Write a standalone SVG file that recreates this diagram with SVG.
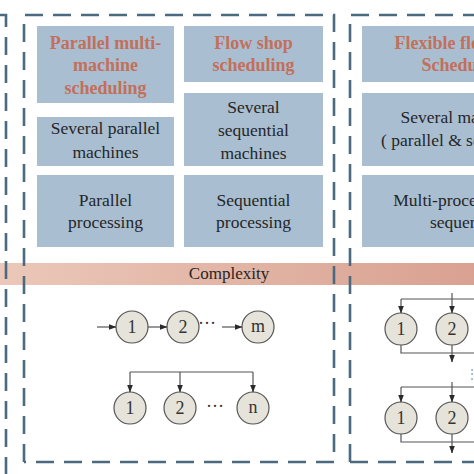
<svg xmlns="http://www.w3.org/2000/svg" width="474" height="474" viewBox="0 0 474 474">
<defs>
<linearGradient id="band" x1="0" y1="0" x2="1" y2="0">
<stop offset="0" stop-color="#ebc8b9"/>
<stop offset="1" stop-color="#d9a191"/>
</linearGradient>
<marker id="ah" markerWidth="8" markerHeight="6" refX="7.5" refY="3" orient="auto" markerUnits="userSpaceOnUse">
<path d="M0,0 L8,3 L0,6 Z" fill="#2a2a2a"/>
</marker>
<style>
.box{fill:#a9bed1}
.dash{fill:none;stroke:#4b6a80;stroke-width:2.6;stroke-dasharray:18 10}
text{font-family:'Liberation Serif','Times New Roman',Times,'DejaVu Serif',serif}
.title{font-weight:bold;font-size:18px;fill:#c2705a;text-anchor:middle}
.txt{font-size:17.5px;fill:#262626;text-anchor:middle}
.node circle{fill:#e5e3da;stroke:#555;stroke-width:1.2}
.node text{font-size:18px;fill:#333;text-anchor:middle}
.ln{fill:none;stroke:#555;stroke-width:1.2}
.dots{font-size:18px;fill:#333;text-anchor:middle}
</style>
</defs>
<rect width="474" height="474" fill="#fff"/>

<!-- boxes column 1 -->
<g id="c1-title"><rect class="box" x="37" y="26" width="137" height="77"/>
<text class="title" x="105.5" y="49">Parallel multi-</text>
<text class="title" x="105.5" y="71">machine</text>
<text class="title" x="105.5" y="94">scheduling</text></g>
<g id="c1-machines"><rect class="box" x="37" y="117" width="137" height="49"/>
<text class="txt" x="105.5" y="134">Several parallel</text>
<text class="txt" x="105.5" y="158">machines</text></g>
<g id="c1-proc"><rect class="box" x="37" y="175" width="137" height="72"/>
<text class="txt" x="105.5" y="206">Parallel</text>
<text class="txt" x="105.5" y="228">processing</text></g>

<!-- column 2 -->
<g id="c2-title"><rect class="box" x="184" y="26" width="139" height="56"/>
<text class="title" x="253.5" y="49">Flow shop</text>
<text class="title" x="253.5" y="71">scheduling</text></g>
<g id="c2-machines"><rect class="box" x="184" y="93" width="139" height="73"/>
<text class="txt" x="253.5" y="113">Several</text>
<text class="txt" x="253.5" y="136">sequential</text>
<text class="txt" x="253.5" y="159">machines</text></g>
<g id="c2-proc"><rect class="box" x="184" y="175" width="139" height="72"/>
<text class="txt" x="253.5" y="206">Sequential</text>
<text class="txt" x="253.5" y="228">processing</text></g>

<!-- column 3 -->
<g id="c3-title"><rect class="box" x="362" y="26" width="140" height="56"/>
<text class="title" x="464" y="49">Flexible flow shop</text>
<text class="title" x="464" y="71">Scheduling</text></g>
<g id="c3-machines"><rect class="box" x="362" y="93" width="140" height="73"/>
<text class="txt" x="462" y="123">Several machines</text>
<text class="txt" x="462" y="146">( parallel &amp; sequential)</text></g>
<g id="c3-proc"><rect class="box" x="362" y="175" width="140" height="72"/>
<text class="txt" x="462" y="206">Multi-processing in</text>
<text class="txt" x="462" y="228">sequence</text></g>

<!-- complexity band -->
<g id="complexity"><rect x="0" y="263" width="474" height="22" fill="url(#band)"/>
<text class="txt" x="229" y="279" style="font-size:17px">Complexity</text></g>

<!-- dashed panels -->
<g id="panels">
<path class="dash" d="M0,15 H6 V474"/>
<path class="dash" d="M24,462 V15 H334 V462 H24"/>
<path class="dash" d="M350,462 V15 H474"/>
<path class="dash" d="M350,462 H474"/>
</g>

<!-- nodes -->
<g id="f1" class="node"><circle cx="132" cy="327" r="16"/><text x="132" y="333">1</text></g>
<g id="f2" class="node"><circle cx="183" cy="327" r="16"/><text x="183" y="333">2</text></g>
<g id="fm" class="node"><circle cx="258" cy="327" r="16"/><text x="258" y="332">m</text></g>
<g id="p1" class="node"><circle cx="130" cy="408" r="16"/><text x="130" y="414">1</text></g>
<g id="p2" class="node"><circle cx="180" cy="408" r="16"/><text x="180" y="414">2</text></g>
<g id="pn" class="node"><circle cx="253" cy="408" r="16"/><text x="253" y="413">n</text></g>
<g id="ff1a" class="node"><circle cx="401" cy="329" r="16"/><text x="401" y="335">1</text></g>
<g id="ff2a" class="node"><circle cx="452" cy="329" r="16"/><text x="452" y="335">2</text></g>
<g id="ff1b" class="node"><circle cx="401" cy="418" r="16"/><text x="401" y="424">1</text></g>
<g id="ff2b" class="node"><circle cx="452" cy="418" r="16"/><text x="452" y="424">2</text></g>

<!-- connectors -->
<g id="connectors">
<line class="ln" x1="97" y1="327" x2="116" y2="327" marker-end="url(#ah)"/>
<line class="ln" x1="148" y1="327" x2="167" y2="327" marker-end="url(#ah)"/>
<line class="ln" x1="222" y1="327" x2="242" y2="327" marker-end="url(#ah)"/>
<text class="dots" x="207" y="329">···</text>
<path class="ln" d="M130,372 H253"/>
<line class="ln" x1="130" y1="372" x2="130" y2="392" marker-end="url(#ah)"/>
<line class="ln" x1="180" y1="372" x2="180" y2="392" marker-end="url(#ah)"/>
<line class="ln" x1="253" y1="372" x2="253" y2="392" marker-end="url(#ah)"/>
<text class="dots" x="215" y="412">···</text>

<path class="ln" d="M474,299 H401"/>
<line class="ln" x1="401" y1="299" x2="401" y2="313" marker-end="url(#ah)"/>
<line class="ln" x1="452" y1="293" x2="452" y2="313" marker-end="url(#ah)"/>
<path class="ln" d="M401,345 V353 H474"/>
<line class="ln" x1="452" y1="345" x2="452" y2="362" marker-end="url(#ah)"/>
<text class="dots" x="472" y="378" style="font-size:12px;fill:#999">⋮</text>

<path class="ln" d="M474,387 H401"/>
<line class="ln" x1="401" y1="387" x2="401" y2="402" marker-end="url(#ah)"/>
<line class="ln" x1="452" y1="382" x2="452" y2="402" marker-end="url(#ah)"/>
<path class="ln" d="M401,434 V442 H474"/>
<line class="ln" x1="452" y1="434" x2="452" y2="453" marker-end="url(#ah)"/>
</g>
</svg>
